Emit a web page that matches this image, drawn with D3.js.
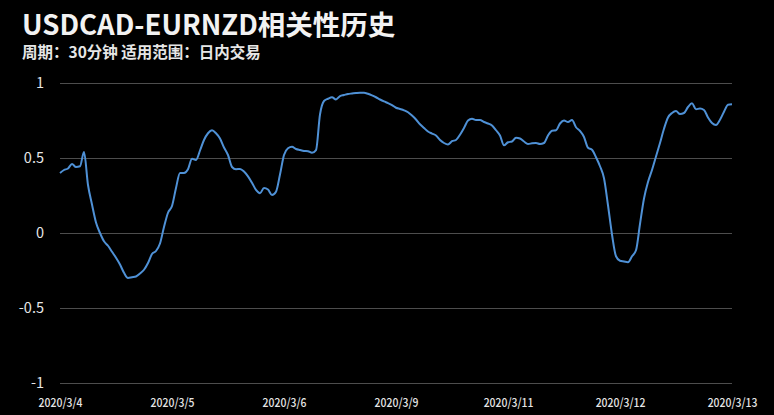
<!DOCTYPE html>
<html><head><meta charset="utf-8">
<script src="https://cdn.jsdelivr.net/npm/d3@7"></script>
<style>
html,body{margin:0;padding:0;background:#000;}
svg{display:block;}
</style></head>
<body>
<script>
const title = "USDCAD-EURNZD相关性历史";
const subtitle = "周期：30分钟 适用范围：日内交易";
const xTickIndex = [0, 28, 56, 84, 112, 140, 168];
const xTickLabels = ["2020/3/4","2020/3/5","2020/3/6","2020/3/9","2020/3/11","2020/3/12","2020/3/13"];
const yTicks = [-1, -0.5, 0, 0.5, 1];
const values = [
0.40,0.42,0.43,0.46,0.44,0.445,0.54,0.32,0.19,0.07,
0.00,-0.055,-0.085,-0.125,-0.165,-0.21,-0.265,-0.30,-0.295,-0.29,
-0.27,-0.245,-0.20,-0.14,-0.12,-0.07,0.04,0.135,0.18,0.30,
0.40,0.40,0.425,0.495,0.487,0.55,0.62,0.665,0.685,0.665,
0.63,0.57,0.52,0.44,0.425,0.427,0.41,0.378,0.335,0.287,
0.265,0.30,0.29,0.253,0.275,0.39,0.52,0.565,0.575,0.56,
0.553,0.547,0.545,0.535,0.553,0.79,0.88,0.895,0.905,0.89,
0.913,0.92,0.927,0.93,0.933,0.935,0.935,0.928,0.918,0.905,
0.89,0.877,0.866,0.853,0.835,0.827,0.818,0.805,0.783,0.757,
0.725,0.70,0.677,0.663,0.65,0.62,0.60,0.59,0.612,0.62,
0.655,0.70,0.75,0.762,0.753,0.753,0.74,0.73,0.717,0.685,
0.65,0.585,0.605,0.61,0.635,0.63,0.61,0.593,0.598,0.60,
0.593,0.60,0.65,0.682,0.685,0.73,0.75,0.74,0.753,0.705,
0.68,0.64,0.568,0.555,0.505,0.445,0.365,0.185,-0.01,-0.155,
-0.185,-0.19,-0.195,-0.155,-0.115,0.06,0.23,0.34,0.42,0.51,
0.60,0.695,0.77,0.80,0.813,0.793,0.80,0.84,0.865,0.825,
0.83,0.82,0.77,0.733,0.72,0.755,0.808,0.855,0.858
];

const W = 774, H = 415;
const FONT = "'Noto Sans CJK SC', 'Noto Sans', sans-serif";
const svg = d3.select("body").append("svg").attr("width", W).attr("height", H)
  .style("background", "#000");

const x = d3.scaleLinear().domain([0, values.length - 1]).range([60, 732]);
const y = d3.scaleLinear().domain([-1, 1]).range([383, 83]);

svg.append("text").attr("x", 22).attr("y", 35)
  .attr("fill", "#f2f2f2").attr("font-family", FONT)
  .attr("font-weight", "bold").attr("font-size", 27.5).text(title);
svg.append("text").attr("x", 22).attr("y", 57.5)
  .attr("fill", "#e6e6e6").attr("font-family", FONT)
  .attr("font-weight", "bold").attr("font-size", 15.5).text(subtitle);

// grid + y labels
const yAxis = d3.axisLeft(y).tickValues(yTicks).tickSize(-(732 - 60)).tickPadding(16)
  .tickFormat(d => String(d));
const gy = svg.append("g").attr("transform", "translate(60,0)").call(yAxis);
gy.select(".domain").remove();
gy.selectAll(".tick line").attr("stroke", "#4d4d4d").attr("stroke-width", 1);
gy.selectAll(".tick text").attr("fill", "#e6e6e6").attr("font-size", 14.5)
  .attr("font-family", FONT);

// x labels
const xAxis = d3.axisBottom(x).tickValues(xTickIndex).tickSize(0).tickPadding(15.5)
  .tickFormat((d, i) => xTickLabels[i]);
const gx = svg.append("g").attr("transform", "translate(0,383)").call(xAxis);
gx.select(".domain").remove();
gx.selectAll(".tick text").attr("fill", "#e6e6e6").attr("font-size", 12)
  .attr("font-weight", 500)
  .attr("font-family", FONT).attr("transform", "scale(0.87,1)");

const line = d3.line().x((d, i) => x(i)).y(d => y(d)).curve(d3.curveMonotoneX);
svg.append("path").datum(values).attr("d", line)
  .attr("fill", "none").attr("stroke", "#4f91d6").attr("stroke-width", 2)
  .attr("stroke-linejoin", "round");
</script>
</body></html>
